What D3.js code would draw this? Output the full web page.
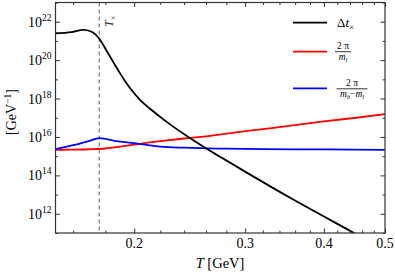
<!DOCTYPE html>
<html>
<head>
<meta charset="utf-8">
<script src="https://cdn.jsdelivr.net/npm/d3@7"></script>
<style>
  body { margin: 0; background: #fff; }
  svg { font-family: "Liberation Serif", "Times New Roman", serif; }
</style>
</head>
<body>
<script>
'use strict';

// temperature grid for each curve [GeV] and log10 of the value [GeV^-1]
const dtT    = [0.150, 0.159, 0.166, 0.1708, 0.1758, 0.1804, 0.1851, 0.1899, 0.1948, 0.1998, 0.2050, 0.2119, 0.2238, 0.2434, 0.2638, 0.2786, 0.2962, 0.3576, 0.4443, 0.47];
const dtLog  = [21.40, 21.46, 21.57, 21.49, 21.14, 20.54, 19.92, 19.31, 18.76, 18.29, 17.88, 17.47, 16.85, 16.01, 15.28, 14.82, 14.30, 12.74, 11.04, 10.60];

const mlT    = [0.15, 0.16, 0.17, 0.18, 0.19, 0.20, 0.22, 0.24, 0.26, 0.28, 0.30, 0.35, 0.40, 0.45, 0.50];
const mlLog  = [15.33, 15.34, 15.36, 15.40, 15.50, 15.60, 15.78, 15.92, 16.03, 16.17, 16.30, 16.56, 16.81, 17.00, 17.19];

const mhT    = [0.15, 0.16, 0.17, 0.176, 0.18, 0.186, 0.19, 0.20, 0.21, 0.22, 0.24, 0.26, 0.28, 0.32, 0.40, 0.50];
const mhLog  = [15.37, 15.57, 15.80, 15.94, 15.90, 15.80, 15.76, 15.68, 15.58, 15.50, 15.44, 15.41, 15.39, 15.37, 15.35, 15.33];

const tCross = 0.176;

const xMajor = [0.2, 0.3, 0.4, 0.5];
const xMinor = [0.16, 0.18, 0.22, 0.24, 0.26, 0.28, 0.32, 0.34, 0.36, 0.38, 0.42, 0.44, 0.46, 0.48];
const yMajorExp = [12, 14, 16, 18, 20, 22];
const yMinorExp = [11, 13, 15, 17, 19, 21, 23];

(function() {
    const W = 395, H = 274;
    const box = { left: 55.5, right: 385, top: 2.5, bottom: 233 };

    const svg = d3.select('body').append('svg')
        .attr('width', W)
        .attr('height', H);

    const x = d3.scaleLog().domain([0.15, 0.5]).range([box.left, box.right]);
    const y = d3.scaleLog().domain([1e11, 1e23]).range([box.bottom, box.top]);

    svg.append('clipPath').attr('id', 'plotclip')
        .append('rect')
        .attr('x', box.left).attr('y', box.top)
        .attr('width', box.right - box.left).attr('height', box.bottom - box.top);

    const frameColor = '#333';

    // ticks point inward on all four sides
    function tickAxis(axisFn, scale, vals, len, transform) {
        const g = svg.append('g')
            .attr('transform', transform)
            .call(axisFn(scale).tickValues(vals).tickSize(-len).tickFormat(() => ''));
        g.select('.domain').remove();
        g.selectAll('.tick line').attr('stroke', frameColor).attr('stroke-width', 1);
        return g;
    }

    const yMajor = yMajorExp.map(e => Math.pow(10, e));
    const yMinor = yMinorExp.map(e => Math.pow(10, e));

    tickAxis(d3.axisBottom, x, xMajor, 4.5, `translate(0,${box.bottom})`);
    tickAxis(d3.axisBottom, x, xMinor, 2.5, `translate(0,${box.bottom})`);
    tickAxis(d3.axisTop, x, xMajor, 4.5, `translate(0,${box.top})`);
    tickAxis(d3.axisTop, x, xMinor, 2.5, `translate(0,${box.top})`);
    tickAxis(d3.axisLeft, y, yMajor, 4.5, `translate(${box.left},0)`);
    tickAxis(d3.axisLeft, y, yMinor, 2.5, `translate(${box.left},0)`);
    tickAxis(d3.axisRight, y, yMajor, 4.5, `translate(${box.right},0)`);
    tickAxis(d3.axisRight, y, yMinor, 2.5, `translate(${box.right},0)`);

    // x tick labels
    svg.selectAll('.xlab')
        .data(xMajor)
        .enter()
        .append('text')
        .attr('x', d => x(d))
        .attr('y', 248)
        .attr('text-anchor', 'middle')
        .style('font-size', '14px')
        .text(d => d3.format('.1f')(d));

    // y tick labels 10^n
    const ylab = svg.selectAll('.ylab')
        .data(yMajorExp)
        .enter()
        .append('text')
        .attr('x', 51.5)
        .attr('y', d => y(Math.pow(10, d)) + 5)
        .attr('text-anchor', 'end')
        .style('font-size', '14px');
    ylab.append('tspan').text('10');
    ylab.append('tspan').attr('dy', -6).style('font-size', '9.5px').text(d => d);

    // axis titles
    const xt = svg.append('text')
        .attr('x', 220)
        .attr('y', 268)
        .attr('text-anchor', 'middle')
        .style('font-size', '14.5px');
    xt.append('tspan').style('font-style', 'italic').text('T');
    xt.append('tspan').text(' [GeV]');

    const yt = svg.append('text')
        .attr('transform', 'translate(16,112)rotate(-90)')
        .attr('text-anchor', 'middle')
        .style('font-size', '14px');
    yt.append('tspan').text('[GeV');
    yt.append('tspan').attr('dy', -5).style('font-size', '9.5px').text('\u22121');
    yt.append('tspan').attr('dy', 5).text(']');

    // curves
    const line = d3.line()
        .x(d => x(d[0]))
        .y(d => y(Math.pow(10, d[1])))
        .curve(d3.curveMonotoneX);

    const curves = {
        dt: { t: dtT, v: dtLog, color: '#000000' },
        ml: { t: mlT, v: mlLog, color: '#ff0000' },
        mh: { t: mhT, v: mhLog, color: '#0000ff' }
    };

    const plot = svg.append('g').attr('clip-path', 'url(#plotclip)');

    // dashed marker at T_x
    plot.append('line')
        .attr('x1', x(tCross)).attr('x2', x(tCross))
        .attr('y1', box.top).attr('y2', box.bottom)
        .attr('stroke', '#808080')
        .attr('stroke-width', 1.3)
        .attr('stroke-dasharray', '4,3');

    [curves.ml, curves.mh, curves.dt].forEach(c => {
        plot.append('path')
            .datum(c.t.map((t, i) => [t, c.v[i]]))
            .attr('d', line)
            .attr('fill', 'none')
            .attr('stroke', c.color)
            .attr('stroke-width', 1.8);
    });

    // T_x label, rotated
    const tx = svg.append('text')
        .attr('transform', `translate(${x(tCross) + 14},27)rotate(-90)`)
        .style('font-size', '12px')
        .attr('fill', '#333');
    tx.append('tspan').style('font-style', 'italic').text('T');
    tx.append('tspan').attr('dy', 2.5).style('font-size', '8px').text('\u00d7');

    // frame
    svg.append('rect')
        .attr('x', box.left).attr('y', box.top)
        .attr('width', box.right - box.left).attr('height', box.bottom - box.top)
        .attr('fill', 'none')
        .attr('stroke', frameColor)
        .attr('stroke-width', 1.2);

    // legend
    const legX1 = 293, legX2 = 327;
    const legY = [22.7, 51.7, 88.3];
    [curves.dt, curves.ml, curves.mh].forEach((c, i) => {
        svg.append('line')
            .attr('x1', legX1).attr('x2', legX2)
            .attr('y1', legY[i]).attr('y2', legY[i])
            .attr('stroke', c.color)
            .attr('stroke-width', 1.8);
    });

    const l1 = svg.append('text')
        .attr('x', 337).attr('y', legY[0] + 4.5)
        .style('font-size', '13px');
    l1.append('tspan').text('\u0394');
    l1.append('tspan').style('font-style', 'italic').text('t');
    l1.append('tspan').attr('dy', 2.5).style('font-size', '9px').text('\u00d7');

    function fraction(cx, cy, halfW, den) {
        svg.append('line')
            .attr('x1', cx - halfW).attr('x2', cx + halfW)
            .attr('y1', cy).attr('y2', cy)
            .attr('stroke', '#000')
            .attr('stroke-width', 0.8);
        svg.append('text')
            .attr('x', cx).attr('y', cy - 2.5)
            .attr('text-anchor', 'middle')
            .style('font-size', '9.5px')
            .text('2 \u03c0');
        const d = svg.append('text')
            .attr('x', cx).attr('y', cy + 8.5)
            .attr('text-anchor', 'middle')
            .style('font-size', '9.5px')
            .style('font-style', 'italic');
        den.forEach(p => {
            const s = d.append('tspan').text(p.t);
            if (p.sub) s.attr('dy', 2).style('font-size', '6.5px');
            if (p.up) s.attr('dy', -2);
            if (p.normal) s.style('font-style', 'normal');
        });
    }

    fraction(343, legY[1], 8, [{ t: 'm' }, { t: 'l', sub: true }]);
    fraction(352, legY[2] + 0.5, 15.5, [
        { t: 'm' }, { t: 'h', sub: true },
        { t: '\u2212', up: true, normal: true },
        { t: 'm' }, { t: 'l', sub: true }
    ]);
})();
</script>
</body>
</html>
